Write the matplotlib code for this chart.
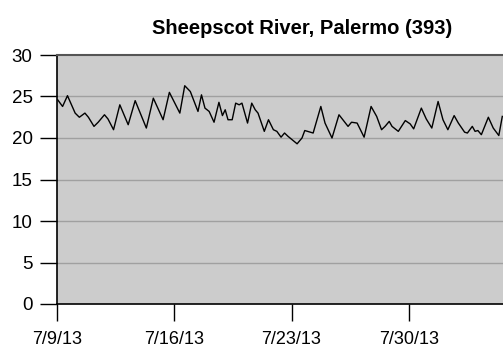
import matplotlib
matplotlib.use("Agg")
import matplotlib.pyplot as plt
import matplotlib.dates as mdates
import pandas as pd

plt.rcParams["font.family"] = ["Liberation Sans", "DejaVu Sans"]

# Logger readings, hours after 7/9/13 00:00 and water temperature (C)
start = pd.Timestamp("2013-07-09 00:00")
hours = [
    1, 8, 15, 26, 32, 40, 45, 53, 59, 68, 73, 81, 90, 102, 112, 128, 138,
    152, 161, 176, 183, 191, 202, 207, 212, 218, 225, 232, 237, 241, 245,
    251, 256, 261, 265, 273, 279, 284, 288, 297, 303, 310, 315, 321, 326,
    331, 344, 351, 355, 367, 378, 384, 394, 404, 417, 422, 430, 440, 450,
    458, 465, 470, 476, 480, 489, 499, 506, 511, 522, 529, 537, 546, 553,
    560, 569, 575, 584, 588, 595, 599, 603, 608, 618, 625, 633, 638,
]
temps = [
    24.6, 23.8, 25.1, 23.0, 22.5, 23.0, 22.5, 21.4, 21.9, 22.8, 22.3, 21.0,
    24.0, 21.6, 24.5, 21.2, 24.8, 22.2, 25.5, 23.0, 26.3, 25.6, 23.2, 25.2,
    23.6, 23.2, 21.9, 24.3, 22.7, 23.4, 22.2, 22.2, 24.2, 24.0, 24.2, 21.8,
    24.2, 23.4, 23.0, 20.8, 22.2, 21.0, 20.8, 20.1, 20.6, 20.2, 19.3, 20.0,
    20.9, 20.6, 23.8, 21.8, 20.0, 22.8, 21.4, 21.9, 21.8, 20.1, 23.8, 22.6,
    21.0, 21.4, 22.0, 21.4, 20.8, 22.1, 21.7, 21.1, 23.6, 22.3, 21.2, 24.4,
    22.2, 21.0, 22.7, 21.8, 20.7, 20.6, 21.4, 20.8, 20.9, 20.4, 22.5, 21.2,
    20.3, 22.6,
]
tick_dates = ["2013-07-09", "2013-07-16", "2013-07-23", "2013-07-30"]
y_ticks = [0, 5, 10, 15, 20, 25, 30]

times = start + pd.to_timedelta(hours, unit="h")

fig = plt.figure(figsize=(5.03, 3.49), dpi=100)
ax = fig.add_axes([57 / 503, 45 / 349, 446 / 503, 249 / 349])
ax.set_facecolor("#cccccc")

ax.plot(times, temps, color="black", linewidth=1.0)

ax.set_ylim(0, 30)
ax.set_yticks(y_ticks)
ax.set_xlim(start, start + pd.Timedelta(hours=639))
ax.set_xticks(pd.to_datetime(tick_dates))
ax.xaxis.set_major_formatter(
    plt.FuncFormatter(lambda v, pos: (lambda d: f"{d.month}/{d.day}/{d:%y}")(mdates.num2date(v)))
)

for y in y_ticks[1:-1]:
    ax.axhline(y, color="#a0a0a0", linewidth=1.0, zorder=0.5)

for side in ["left", "bottom"]:
    ax.spines[side].set_color("black")
    ax.spines[side].set_linewidth(1.2)
ax.spines["top"].set_color("#555555")
ax.spines["top"].set_linewidth(1.5)
ax.spines["right"].set_visible(False)

ax.tick_params(axis="both", direction="out", length=12.5, width=1, colors="black", labelsize=13.5)
ax.tick_params(axis="y", pad=5)
ax.tick_params(axis="x", labelsize=13, pad=7)

fig.text(302 / 503, 1 - 29 / 349, "Sheepscot River, Palermo (393)",
         ha="center", va="center", fontsize=14.5, fontweight="bold")

fig.savefig("out.png", dpi=100)
